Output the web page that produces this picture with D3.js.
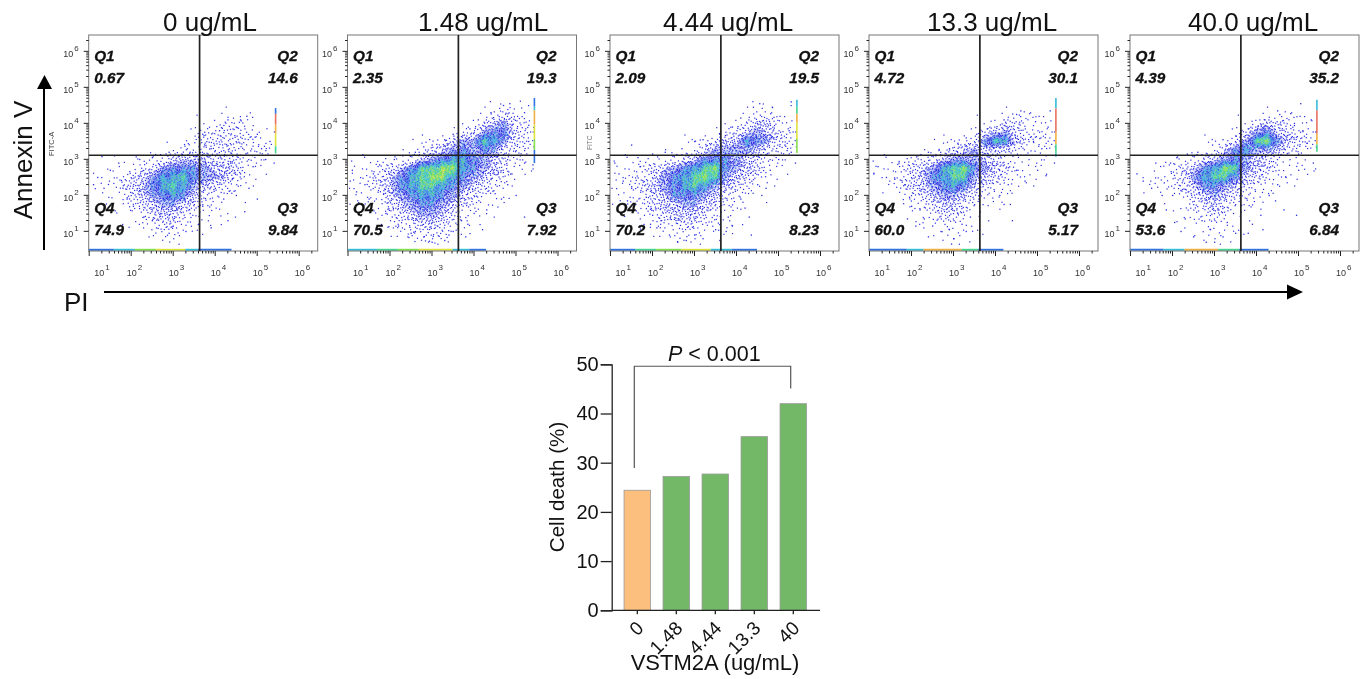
<!DOCTYPE html>
<html>
<head>
<meta charset="utf-8">
<script src="https://cdn.jsdelivr.net/npm/d3@7"></script>
<style>
  html, body { margin: 0; padding: 0; background: #fff; }
  svg { display: block; font-family: "Liberation Sans", Arial, sans-serif; }
</style>
</head>
<body>
<svg id="chart" width="1362" height="679"></svg>
<script>
// flow panels
const panelTitles = ['0 ug/mL', '1.48 ug/mL', '4.44 ug/mL', '13.3 ug/mL', '40.0 ug/mL'];
const q1Values = ['0.67', '2.35', '2.09', '4.72', '4.39'];
const q2Values = ['14.6', '19.3', '19.5', '30.1', '35.2'];
const q3Values = ['9.84', '7.92', '8.23', '5.17', '6.84'];
const q4Values = ['74.9', '70.5', '70.2', '60.0', '53.6'];
const decades = [1, 2, 3, 4, 5, 6];
const gateX = 3.64; // log10 PI
const gateY = 3.1; // log10 Annexin V

// density per 0.25 decade cell, rows log y 4.5 -> 0.75, columns log x 1.0 -> 5.5
const densityGrids = [
  ['0000000000000000000',
   '0000000000000111000',
   '0000000000011221000',
   '0000000000122322110',
   '0000000001233332210',
   '0000000112232322220',
   '0000011234443332110',
   '0011123566654432100',
   '0112345778655431000',
   '0112346787543221000',
   '0011345676432110000',
   '0001234554321100000',
   '0000123442211100000',
   '0000112332111000000',
   '0000001221100000000',
   '0000000110000000000'],
  ['0000000000000011100',
   '0000000000000123210',
   '0000000000001345321',
   '0000000000023566321',
   '0000000112455875321',
   '0000001234565653321',
   '0011112456776543211',
   '0112346889976543110',
   '1123467899765432100',
   '1123467887654321000',
   '0112456776543211000',
   '0011345665432110000',
   '0001234554321100000',
   '0001123443211000000',
   '0000112232110000000',
   '0000011221100000000'],
  ['0000000000000011000',
   '0000000000000122110',
   '0000000000001244210',
   '0000000000023454321',
   '0000000012344765322',
   '0000001123555543221',
   '0011112346665432111',
   '0112345678965432100',
   '1122356789854321000',
   '1123456787543211000',
   '0112346665432110000',
   '0012344554321100000',
   '0011234443211000000',
   '0001123332211000000',
   '0000011221110000000',
   '0000001110000000000'],
  ['0000000000000000000',
   '0000000000000122100',
   '0000000000012331110',
   '0000000000134532211',
   '0000000112368743222',
   '0000001234543322111',
   '0011223455543211110',
   '0112345789654321100',
   '0112346788543211000',
   '0012345676432110000',
   '0001234554321100000',
   '0000123443211000000',
   '0000012332110000000',
   '0000011221100000000',
   '0000000111100000000',
   '0000000011000000000'],
  ['0000000000000000000',
   '0000000000000112100',
   '0000000000013432110',
   '0000000000135643211',
   '0000000011358964321',
   '0000000124675543211',
   '0000112345654321100',
   '0001234679854321110',
   '0011235788643211000',
   '0011234665432110000',
   '0000123454321100000',
   '0000012343221000000',
   '0000011232110000000',
   '0000001121100000000',
   '0000000111100000000',
   '0000000011000000000']
];

// stray events outside the dense cloud, [log x, log y]
const strayEvents = [
  [[1.2,2.5],[1.35,2.2],[1.5,2.7],[1.1,2.3],[1.7,2.9],[1.8,2.2],[1.9,1.9],[2.05,1.7],[2.2,3.0],[1.6,3.1],[1.3,3.08],[2.6,1.1],[2.9,0.95],[3.0,1.15],[3.3,1.0],[3.6,1.2],[3.9,1.1],[4.2,1.9],[4.5,2.0],[4.8,2.2],[5.0,1.9],[4.7,1.55],[4.3,1.3],[4.4,2.9],[4.9,2.8],[5.2,3.0],[5.4,2.9],[5.1,3.3],[5.3,3.5],[5.0,3.7],[4.6,4.1],[4.75,4.2],[4.3,4.1],[4.5,3.9],[4.1,3.8],[3.7,3.7],[3.9,3.3],[3.4,3.2],[3.2,3.15],[2.9,3.2],[2.5,3.05],[3.1,1.6],[3.4,1.5],[3.7,1.7],[2.3,1.4],[2.5,1.3],[2.7,1.5],[4.0,2.2],[4.15,2.5],[4.6,2.6]],
  [[1.05,2.4],[1.2,2.1],[1.4,2.3],[1.1,2.7],[1.6,2.6],[1.75,2.85],[1.85,2.05],[1.95,1.8],[2.1,3.0],[2.3,3.1],[2.6,3.2],[2.8,3.35],[3.0,3.4],[3.3,3.55],[3.5,3.7],[3.9,3.85],[4.1,4.1],[4.4,4.3],[4.7,4.5],[4.85,4.55],[5.2,4.3],[5.3,3.95],[5.3,3.5],[5.1,3.1],[5.2,2.9],[5.4,2.85],[4.9,2.6],[4.8,2.3],[4.5,2.05],[4.65,1.9],[4.3,1.6],[4.0,1.5],[3.7,1.3],[3.85,1.2],[3.5,1.0],[3.8,0.85],[4.2,1.05],[3.3,0.75],[2.8,0.85],[2.5,0.95],[2.2,1.15],[2.05,1.4],[3.0,0.7],[5.0,2.0],[5.2,1.4],[2.6,1.0],[3.4,0.9],[1.9,1.5],[1.5,1.9],[1.25,1.8]],
  [[1.1,2.9],[1.3,2.4],[1.5,2.2],[1.2,2.6],[1.7,2.8],[1.65,3.05],[1.85,1.95],[1.9,1.7],[2.0,3.15],[2.3,3.2],[1.5,3.4],[2.7,3.3],[3.0,3.5],[3.2,3.55],[3.6,3.7],[3.9,3.9],[4.1,4.15],[4.4,4.45],[4.55,4.55],[4.85,4.45],[5.3,4.6],[5.25,3.8],[5.15,3.4],[5.3,3.2],[5.0,3.0],[5.4,2.9],[4.8,2.7],[4.5,2.3],[4.6,2.0],[4.1,1.9],[4.2,1.65],[4.3,1.4],[3.8,1.4],[3.9,1.15],[4.35,0.9],[3.5,1.05],[3.2,0.8],[2.8,0.75],[2.4,0.9],[2.1,1.1],[2.0,1.45],[1.95,1.2],[3.0,0.9],[2.6,0.7],[3.6,0.75],[3.75,1.0],[2.2,1.3],[1.4,1.85],[1.6,1.75],[4.7,2.2]],
  [[1.2,2.8],[1.4,2.5],[1.1,2.6],[1.6,2.45],[1.7,2.9],[1.85,2.3],[1.95,1.95],[2.0,1.7],[2.15,3.1],[2.4,3.2],[2.65,3.25],[2.9,3.3],[3.1,3.45],[3.3,3.6],[3.55,3.7],[3.8,3.85],[4.2,4.1],[4.5,4.25],[4.6,4.35],[4.95,4.05],[5.3,4.35],[5.25,3.9],[4.9,3.5],[5.1,3.3],[5.2,3.1],[5.4,2.9],[5.2,2.55],[5.0,2.7],[4.5,2.7],[4.7,2.4],[4.3,2.3],[4.1,2.0],[4.2,1.75],[4.35,1.75],[4.4,1.3],[3.6,1.9],[2.3,1.35],[2.5,1.15],[2.7,1.0],[2.9,1.05],[3.0,0.8],[2.95,0.65],[3.2,1.2],[3.3,1.0],[2.4,0.85],[2.1,1.15],[3.1,1.5],[2.2,1.6],[1.9,1.35],[3.4,1.4]],
  [[1.15,2.6],[1.3,2.4],[1.5,2.2],[1.6,2.9],[1.8,2.35],[1.95,2.9],[2.0,2.0],[2.1,3.05],[2.35,3.15],[2.6,3.2],[2.95,3.4],[3.2,3.55],[3.5,3.65],[3.8,3.85],[4.2,4.1],[4.5,4.35],[4.55,4.25],[4.9,4.0],[5.05,4.55],[5.3,4.1],[5.1,3.8],[5.2,3.45],[5.0,3.15],[5.35,2.9],[5.0,2.7],[4.7,2.5],[4.5,2.3],[4.3,2.0],[4.45,1.85],[4.65,1.6],[4.95,1.45],[4.1,1.45],[3.9,1.2],[3.8,0.95],[4.15,1.05],[3.5,0.95],[3.2,0.85],[3.0,0.7],[2.8,0.7],[2.5,0.85],[2.2,1.0],[2.05,1.25],[2.3,1.35],[1.85,1.6],[2.9,1.05],[3.3,1.25],[3.45,1.5],[1.75,2.0],[2.7,1.3],[3.1,1.6]]
];

// saturated strip on the right edge of the gate, [log y from, log y to, colour level]
const edgeStrips = [
  [[4.41,4.25,5],[4.25,3.95,11],[3.95,3.7,10],[3.7,3.35,9],[3.35,3.15,7]],
  [[4.69,4.45,5],[4.45,4.35,6],[4.35,3.95,10],[3.95,3.55,9],[3.55,3.25,8],[3.25,2.88,5]],
  [[4.64,4.45,6],[4.45,4.25,7],[4.25,4.0,10],[4.0,3.55,9],[3.55,3.16,8]],
  [[4.69,4.4,6],[4.4,3.75,11],[3.75,3.4,10],[3.4,3.15,7],[3.15,3.06,6]],
  [[4.64,4.35,6],[4.35,3.7,11],[3.7,3.4,10],[3.4,3.2,7]]
];

// events piled on the bottom edge, [log x from, log x to, colour level]
const bottomRails = [
  [[1.0,1.6,5],[1.6,2.1,6],[2.1,2.6,8],[2.6,3.3,9],[3.3,3.6,6],[3.6,4.4,5]],
  [[1.0,1.7,6],[1.7,2.2,7],[2.2,2.7,8],[2.7,3.5,9],[3.5,3.9,6],[3.9,4.3,5]],
  [[1.0,1.6,5],[1.6,2.1,7],[2.1,2.7,8],[2.7,3.4,9],[3.4,3.9,6],[3.9,4.5,5]],
  [[1.0,1.9,5],[1.9,2.3,6],[2.3,3.2,10],[3.2,3.6,7],[3.6,4.2,5]],
  [[1.0,1.8,5],[1.8,2.3,6],[2.3,3.1,10],[3.1,3.6,7],[3.6,4.3,5]]
];

// bar chart
const doses = ['0', '1.48', '4.44', '13.3', '40'];
const cellDeath = [24.4, 27.2, 27.7, 35.3, 42.0];
const deathTicks = [0, 10, 20, 30, 40, 50];
const bracketLevels = { left: 28.9, top: 49.6, right: 45.1 };

// layout
const panelLefts = [88.7, 347.5, 610, 869, 1130];
const titleStarts = [163, 418, 663, 927, 1188];
const panelW = 229, panelTop = 35, panelBottom = 251;
const ramp = ['#ffffff', '#dfe1fb', '#b3b6f4', '#7d80ec', '#2a2ee0', '#2f72e2', '#35bcd6', '#43d48e', '#84e04a', '#dfe23c', '#f0b045', '#e8705c'];
const underlay = ['#d6d9fa', '#a3a9f3', '#7ba6ea', '#7fd0c8', '#a4e28a'];

// fixed sample slots inside one density cell: the dots below are only a way of
// drawing the density grid as speckle, they are not events read one by one
const slots = [[.13,.62],[.71,.18],[.42,.91],[.88,.55],[.27,.29],[.59,.47],[.05,.08],[.94,.83],[.36,.71],[.66,.76],
  [.18,.95],[.52,.12],[.79,.37],[.31,.48],[.97,.22],[.08,.41],[.61,.97],[.46,.31],[.84,.68],[.23,.79],
  [.74,.58],[.39,.05],[.02,.87],[.55,.64],[.91,.03],[.16,.17],[.68,.28],[.33,.89],[.49,.52],[.77,.92],
  [.11,.74],[.87,.45],[.58,.21],[.24,.58],[.43,.16],[.96,.66],[.07,.26],[.64,.85],[.29,.04],[.81,.11]];

const svg = d3.select('#chart');
const flow = svg.append('g').style('filter', 'blur(0.3px)');
const defs = svg.append('defs');

panelLefts.forEach((left, p) => {
  const x = d3.scaleLog().domain([10, Math.pow(10, 1 + panelW / 42)]).range([left, left + panelW]);
  const y = d3.scaleLog().domain([Math.pow(10, 0.44), Math.pow(10, 6.44)]).range([panelBottom, panelTop]);
  const g = flow.append('g');

  defs.append('clipPath').attr('id', `panel-${p}`)
    .append('rect').attr('x', left).attr('y', panelTop).attr('width', panelW).attr('height', panelBottom - panelTop);

  // density contours as the tinted core of the cloud
  const rows = densityGrids[p];
  const cols = rows[0].length;
  const values = [];
  // blank ring so the contours close inside the grid
  const nx = cols + 2, ny = rows.length + 2;
  for (let j = 0; j < ny; j++) {
    for (let i = 0; i < nx; i++) {
      const row = rows[j - 1];
      values.push(row && row[i - 1] ? +row[i - 1] : 0);
    }
  }
  const project = d3.geoTransform({
    point(cx, cy) {
      const lx = 1.0 + (cx - 1.5) * 0.25;
      const ly = 4.5 - (cy - 1.5) * 0.25;
      this.stream.point(x(Math.pow(10, Math.max(lx, 1))), y(Math.pow(10, ly)));
    }
  });
  const contours = d3.contours().size([nx, ny]).thresholds([4.5, 5.5, 6.5, 7.5, 8.5])(values);
  g.append('g').attr('clip-path', `url(#panel-${p})`)
    .selectAll('path').data(contours).join('path')
    .attr('d', d3.geoPath(project))
    .attr('fill', (d, i) => underlay[i]);

  // speckle from the same grid
  const level = (lx, ly) => {
    const fi = (lx - 1.0) / 0.25, fj = (4.5 - ly) / 0.25;
    const i0 = Math.floor(fi), j0 = Math.floor(fj);
    const at = (i, j) => (rows[j] && rows[j][i] ? +rows[j][i] : 0);
    const top = d3.interpolateNumber(at(i0, j0), at(i0 + 1, j0))(fi - i0);
    const bot = d3.interpolateNumber(at(i0, j0 + 1), at(i0 + 1, j0 + 1))(fi - i0);
    return d3.interpolateNumber(top, bot)(fj - j0);
  };
  const specks = [];
  rows.forEach((row, j) => {
    for (let i = 0; i < cols; i++) {
      const turn = (i * 11 + j * 17) % slots.length;
      slots.forEach(([u, v], k) => {
        const uu = (i + j) % 2 ? 1 - u : u;
        const vv = i % 2 ? 1 - v : v;
        const lx = 1.0 + (i - 0.5 + uu) * 0.25;
        const ly = 4.5 - (j - 0.5 + vv) * 0.25;
        if (lx < 1.0 || lx > 5.44) return;
        const d = level(lx, ly);
        const room = slots.length * Math.min(1, Math.pow(d / 6.5, 1.7));
        if ((k + turn) % slots.length < room) {
          specks.push({ lx, ly, c: Math.min(9, Math.max(4, Math.round(d - 2.4 + (k % 3)))) });
        }
      });
    }
  });
  g.append('g').selectAll('rect').data(specks).join('rect')
    .attr('x', (d) => x(Math.pow(10, d.lx)))
    .attr('y', (d) => y(Math.pow(10, d.ly)))
    .attr('width', 1.2).attr('height', 1.2)
    .attr('fill', (d) => ramp[d.c]);

  // stray events
  g.append('g').selectAll('rect').data(strayEvents[p]).join('rect')
    .attr('x', (d) => x(Math.pow(10, d[0])))
    .attr('y', (d) => y(Math.pow(10, d[1])))
    .attr('width', 1.3).attr('height', 1.3)
    .attr('fill', ramp[4]);

  // edge strip + bottom rail
  g.append('g').selectAll('line').data(edgeStrips[p]).join('line')
    .attr('x1', x(Math.pow(10, 5.45))).attr('x2', x(Math.pow(10, 5.45)))
    .attr('y1', (d) => y(Math.pow(10, d[0]))).attr('y2', (d) => y(Math.pow(10, d[1])))
    .attr('stroke', (d) => ramp[d[2]]).attr('stroke-width', 1.6);
  g.append('g').selectAll('line').data(bottomRails[p]).join('line')
    .attr('x1', (d) => x(Math.pow(10, d[0]))).attr('x2', (d) => x(Math.pow(10, d[1])))
    .attr('y1', panelBottom - 1.2).attr('y2', panelBottom - 1.2)
    .attr('stroke', (d) => ramp[d[2]]).attr('stroke-width', 2);

  // frame
  g.append('rect').attr('x', left).attr('y', panelTop)
    .attr('width', panelW).attr('height', panelBottom - panelTop)
    .attr('fill', 'none').attr('stroke', '#777').attr('stroke-width', 1);

  // gates
  g.append('line').attr('x1', x(Math.pow(10, gateX))).attr('x2', x(Math.pow(10, gateX)))
    .attr('y1', panelTop).attr('y2', panelBottom)
    .attr('stroke', '#222').attr('stroke-width', 1.7);
  g.append('line').attr('x1', left).attr('x2', left + panelW)
    .attr('y1', y(Math.pow(10, gateY))).attr('y2', y(Math.pow(10, gateY)))
    .attr('stroke', '#222').attr('stroke-width', 1.7);

  // log axes, majors and minors
  const majors = decades.map((d) => Math.pow(10, d));
  const minors = decades.flatMap((d) => d3.range(2, 10).map((m) => m * Math.pow(10, d)));
  const tickStyle = (a) => {
    a.select('.domain').remove();
    a.selectAll('line').attr('stroke', '#222');
    a.selectAll('text').remove();
  };
  g.append('g').attr('transform', `translate(0,${panelBottom})`)
    .call(d3.axisBottom(x).tickValues(majors).tickSize(5)).call(tickStyle);
  g.append('g').attr('transform', `translate(0,${panelBottom})`)
    .call(d3.axisBottom(x).tickValues(minors.filter((v) => v <= x.domain()[1])).tickSize(2.5)).call(tickStyle);
  g.append('g').attr('transform', `translate(${left},0)`)
    .call(d3.axisLeft(y).tickValues(majors).tickSize(5)).call(tickStyle);
  g.append('g').attr('transform', `translate(${left},0)`)
    .call(d3.axisLeft(y).tickValues(minors.filter((v) => v <= y.domain()[1])).tickSize(2.5)).call(tickStyle);

  // tick labels
  const powerLabel = (sel) => {
    sel.append('tspan').text('10').attr('font-size', 9);
    sel.append('tspan').text((d) => d).attr('font-size', 8).attr('dx', 1).attr('dy', -6);
  };
  g.append('g').attr('fill', '#333').selectAll('text').data(decades).join('text')
    .attr('x', (d) => x(Math.pow(10, d)) + (d === 1 ? 5.5 : -4))
    .attr('y', 276)
    .call(powerLabel);
  g.append('g').attr('fill', '#333').selectAll('text').data(decades).join('text')
    .attr('x', left - 25.5)
    .attr('y', (d) => y(Math.pow(10, d)) + 6.5)
    .call(powerLabel);

  // quadrant labels
  const quads = [
    ['Q1', q1Values[p], left + 5.5, 'start', 61, 83],
    ['Q2', q2Values[p], left + 209, 'end', 61, 83],
    ['Q4', q4Values[p], left + 5.5, 'start', 213, 235],
    ['Q3', q3Values[p], left + 209, 'end', 213, 235]
  ];
  quads.forEach(([name, val, qx, anchor, y1, y2]) => {
    [[name, y1], [val, y2]].forEach(([t, ty]) => {
      g.append('text').attr('x', qx).attr('y', ty).attr('text-anchor', anchor)
        .attr('font-size', 15.3).attr('font-weight', 700).attr('font-style', 'italic')
        .attr('fill', '#111').attr('stroke', '#111').attr('stroke-width', 0.3).text(t);
    });
  });

  svg.append('text').attr('x', titleStarts[p]).attr('y', 31)
    .attr('font-size', 26).attr('fill', '#111').text(panelTitles[p]);
});

// stray channel names left on the scan
flow.append('text').attr('transform', 'translate(54,156) rotate(-90)')
  .attr('font-size', 7.5).attr('fill', '#444').text('FITC-A');
flow.append('text').attr('transform', 'translate(592,150) rotate(-90)')
  .attr('font-size', 6.5).attr('fill', '#777').text('FITC');

// big axis arrows
const arrows = svg.append('g');
arrows.append('line').attr('x1', 44).attr('x2', 44).attr('y1', 250).attr('y2', 86)
  .attr('stroke', '#000').attr('stroke-width', 2);
arrows.append('path').attr('d', 'M37,89 L44.5,75 L52,89 Z').attr('fill', '#000');
arrows.append('line').attr('x1', 104).attr('x2', 1290).attr('y1', 292).attr('y2', 292)
  .attr('stroke', '#000').attr('stroke-width', 2);
arrows.append('path').attr('d', 'M1287,284.5 L1303,292 L1287,299.5 Z').attr('fill', '#000');
svg.append('text').attr('transform', 'translate(32,160) rotate(-90)')
  .attr('text-anchor', 'middle').attr('font-size', 26).attr('fill', '#111').text('Annexin V');
svg.append('text').attr('x', 64).attr('y', 311)
  .attr('font-size', 26).attr('fill', '#111').text('PI');

// bar chart
const bx = d3.scaleBand().domain(doses).range([617.8, 812.8]).paddingInner(0.32).paddingOuter(0.16);
const by = d3.scaleLinear().domain([0, 50]).range([610.3, 364.3]);
const bars = svg.append('g');

bars.append('g').selectAll('rect').data(cellDeath).join('rect')
  .attr('x', (d, i) => bx(doses[i]))
  .attr('y', (d) => by(d))
  .attr('width', bx.bandwidth())
  .attr('height', (d) => by(0) - by(d))
  .attr('fill', (d, i) => (i === 0 ? '#FDBF7E' : '#72B866'))
  .attr('stroke', '#9a9a9a').attr('stroke-width', 0.8);

const yAxis = bars.append('g').attr('transform', 'translate(611.7,0)')
  .call(d3.axisLeft(by).tickValues(deathTicks).tickSize(11).tickPadding(2));
yAxis.select('.domain').attr('stroke', '#222').attr('stroke-width', 1.3);
yAxis.selectAll('.tick line').attr('stroke', '#222').attr('stroke-width', 1.3);
yAxis.selectAll('text').attr('font-size', 20).attr('font-family', 'Liberation Sans').attr('fill', '#111');

const xAxis = bars.append('g').attr('transform', 'translate(0,610.3)')
  .call(d3.axisBottom(bx).tickSize(4));
xAxis.select('.domain').attr('d', 'M611.7,0H820').attr('stroke', '#222').attr('stroke-width', 1.3);
xAxis.selectAll('.tick line').attr('stroke', '#222').attr('stroke-width', 1.3);
xAxis.selectAll('text')
  .attr('font-size', 19).attr('font-family', 'Liberation Sans').attr('fill', '#111')
  .attr('text-anchor', 'end').attr('dy', 0).attr('y', 0)
  .attr('transform', 'translate(2.5,14) rotate(-45) translate(0,7)');

bars.append('text').attr('transform', 'translate(564,487) rotate(-90)')
  .attr('text-anchor', 'middle').attr('font-size', 20.6).attr('fill', '#111').text('Cell death (%)');
bars.append('text').attr('x', 715).attr('y', 670)
  .attr('text-anchor', 'middle').attr('font-size', 22).attr('fill', '#111').text('VSTM2A (ug/mL)');

// significance bracket
bars.append('path')
  .attr('d', `M634.3,${by(bracketLevels.left)} V${by(bracketLevels.top)} H790.7 V${by(bracketLevels.right)}`)
  .attr('fill', 'none').attr('stroke', '#555').attr('stroke-width', 1.2);
const pLabel = bars.append('text').attr('x', 668).attr('y', 361).attr('font-size', 21.5).attr('fill', '#111');
pLabel.append('tspan').attr('font-style', 'italic').text('P');
pLabel.append('tspan').text(' < 0.001');
</script>
</body>
</html>
